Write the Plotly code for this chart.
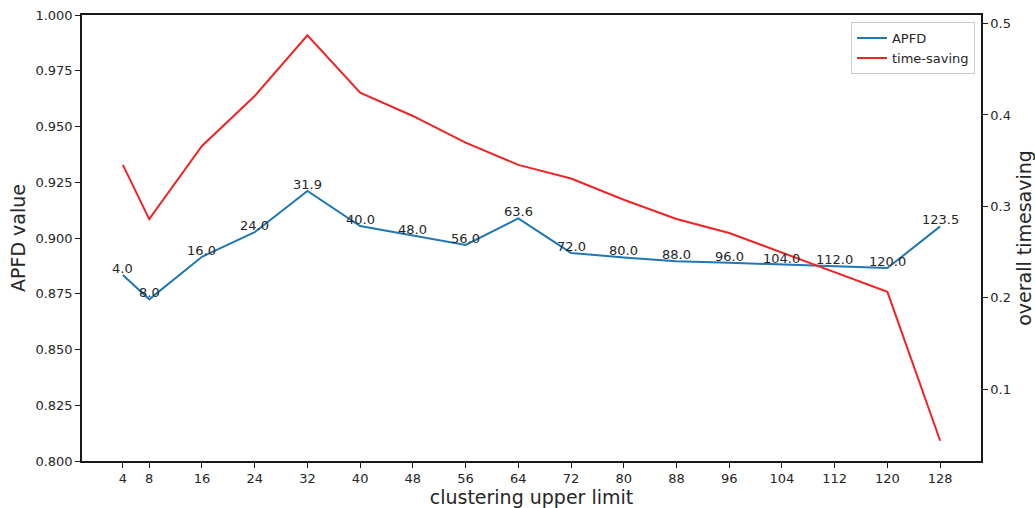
import plotly.graph_objects as go

# clustering upper limit (x positions)
upper_limit = [4, 8, 16, 24, 32, 40, 48, 56, 64, 72, 80, 88, 96, 104, 112, 120, 128]

# APFD value per upper limit (left axis)
apfd = [0.8834, 0.8725, 0.8916, 0.9026, 0.9211, 0.9054, 0.9011, 0.8969, 0.9088,
        0.8933, 0.8913, 0.8896, 0.8889, 0.8880, 0.8873, 0.8865, 0.9052]

# overall time-saving per upper limit (right axis)
time_saving = [0.3454, 0.2860, 0.3661, 0.4207, 0.4872, 0.4243, 0.3989, 0.3698, 0.3454,
               0.3305, 0.3072, 0.2862, 0.2709, 0.2495, 0.2283, 0.2065, 0.0436]

# annotation printed above each APFD point
point_labels = [4.0, 8.0, 16.0, 24.0, 31.9, 40.0, 48.0, 56.0, 63.6, 72.0, 80.0, 88.0,
                96.0, 104.0, 112.0, 120.0, 123.5]

left_ticks = [0.800, 0.825, 0.850, 0.875, 0.900, 0.925, 0.950, 0.975, 1.000]
right_ticks = [0.1, 0.2, 0.3, 0.4, 0.5]

FONT = "DejaVu Sans"
INK = "#262626"
FRAME = "#1a1a1a"
BLUE = "#1f77b4"
RED = "#f02424"

fig = go.Figure()
fig.add_trace(go.Scatter(x=upper_limit, y=apfd, mode="lines", name="APFD",
                         line=dict(color=BLUE, width=2), yaxis="y"))
fig.add_trace(go.Scatter(x=upper_limit, y=time_saving, mode="lines", name="time-saving",
                         line=dict(color=RED, width=2), yaxis="y2"))

for xv, yv, lab in zip(upper_limit, apfd, point_labels):
    fig.add_annotation(x=xv, y=yv, xref="x", yref="y", text=f"{lab:.1f}",
                       showarrow=False, xanchor="center", yanchor="bottom",
                       yshift=-3, font=dict(family=FONT, size=13, color=INK))

span = upper_limit[-1] - upper_limit[0]
ts_span = max(time_saving) - min(time_saving)

axis_common = dict(showline=True, linecolor=FRAME, linewidth=1.5, ticks="outside",
                   ticklen=5, tickwidth=1.3, tickcolor=FRAME, showgrid=False,
                   zeroline=False, automargin=False,
                   tickfont=dict(family=FONT, size=13, color=INK))

fig.update_layout(
    width=1035, height=508,
    margin=dict(l=82, r=54, t=15, b=47),
    paper_bgcolor="white", plot_bgcolor="white",
    font=dict(family=FONT, color=INK),
    xaxis=dict(range=[upper_limit[0] - 0.05 * span, upper_limit[-1] + 0.05 * span],
               tickvals=upper_limit, mirror=True,
               title=dict(text="clustering upper limit", font=dict(size=19), standoff=6),
               **axis_common),
    yaxis=dict(range=[0.8, 1.0], tickvals=left_ticks, tickformat=".3f", mirror=True,
               title=dict(text="APFD value", font=dict(size=19), standoff=5),
               **axis_common),
    yaxis2=dict(overlaying="y", side="right",
                range=[min(time_saving) - 0.05 * ts_span, max(time_saving) + 0.05 * ts_span],
                tickvals=right_ticks, tickformat=".1f",
                title=dict(text="overall timesaving", font=dict(size=19), standoff=8),
                **axis_common),
    legend=dict(x=0.9933, y=0.984, xanchor="right", yanchor="top",
                bgcolor="rgba(255,255,255,0.8)", bordercolor="#cccccc", borderwidth=1,
                font=dict(family=FONT, size=13, color=INK), tracegroupgap=0,
                itemwidth=30),
    showlegend=True,
)

fig.write_html("out.html")
